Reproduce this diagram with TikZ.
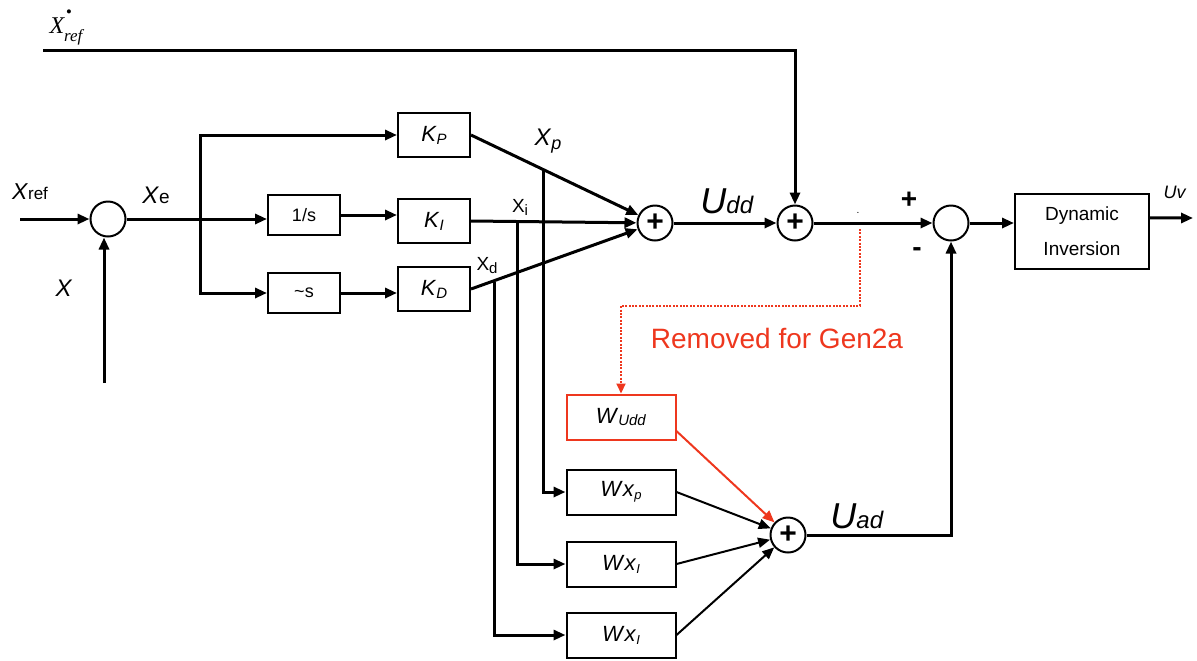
\documentclass[tikz,border=0pt]{standalone}
\usepackage{fontspec}
\setmainfont{Liberation Sans}
\newfontfamily\serifit{Liberation Serif}
\usetikzlibrary{arrows.meta,calc}
\newcommand\fsz[1]{\fontsize{#1}{#1}\selectfont}
\definecolor{remred}{RGB}{238,55,30}
\begin{document}
\begin{tikzpicture}[x=0.5pt,y=-0.5pt,
  blk/.style={draw, line width=1pt, minimum width=36pt, minimum height=22pt, inner sep=0pt},
  wblk/.style={blk, minimum width=54.5pt, minimum height=22.5pt},
  sumc/.style={draw, circle, line width=1pt, minimum size=17.5pt, inner sep=0pt},
  sig/.style={line width=1.5pt, -{Triangle[length=6pt,width=5pt]}},
  ln/.style={line width=1.5pt},
  thn/.style={line width=1pt, -{Triangle[length=6pt,width=5pt]}},
  lbl/.style={inner sep=0pt},
  plus/.style={font=\fsz{15}\bfseries}]
\useasboundingbox (0,0) rectangle (1197,660);

% blocks
\node[sumc] (s0) at (108,219) {};
\node[blk, minimum height=20pt] (inv) at (304,215) {\fsz{9}1/s};
\node[blk, minimum height=20pt] (dif) at (304,293) {\fsz{9}\textasciitilde s};
\node[blk] (KP) at (434,135) {\fsz{11}\textit{K}\raisebox{-1.5pt}{\fsz{7.5}\textit{P}}};
\node[blk] (KI) at (434,221) {\fsz{11}\textit{K}\raisebox{-1.5pt}{\fsz{7.5}\textit{I}}};
\node[blk] (KD) at (434,289) {\fsz{11}\textit{K}\raisebox{-1.5pt}{\fsz{7.5}\textit{D}}};
\node[sumc, plus] (s1) at (655,223) {+};
\node[sumc, plus] (s2) at (795,223) {+};
\node[sumc] (s3) at (951,223) {};
\node[blk, minimum width=67pt, minimum height=37.5pt, align=center, font=\fsz{9.5}] (DI) at (1082,231) {Dynamic\\[8pt]Inversion};
\node[wblk, draw=remred] (Wu) at (621,417) {\fsz{11}\textit{W}\raisebox{-1pt}{\fsz{7.5}\textit{Udd}}};
\node[wblk] (Wp) at (621,492) {\fsz{11}\textit{W}\textit{x}\raisebox{-1.5pt}{\fsz{6.5}\textit{p}}};
\node[wblk] (Wi) at (621,564) {\fsz{11}\textit{W}\textit{x}\raisebox{-1.5pt}{\fsz{6.5}\textit{I}}};
\node[wblk] (Wd) at (621,635) {\fsz{11}\textit{W}\textit{x}\raisebox{-1.5pt}{\fsz{6.5}\textit{I}}};
\node[sumc, plus] (s4) at (788,535) {+};

% free ends and taps
\coordinate (xin) at (20,219);
\coordinate (xfb) at (104,383);
\coordinate (br) at (200,219);
\coordinate (xdtop) at (43,50);
\coordinate (tp) at (543,169);
\coordinate (ti) at (517,222);
\coordinate (td) at (494,282);
\coordinate (uv) at (1193,218);
\coordinate (rd) at (860,229);

% connectors
\draw[sig] (xin) -- (s0);
\draw[sig] (xfb) -- (xfb |- s0.south);
\draw[ln] (s0) -- (br);
\draw[sig] (br) -- (inv.west |- br);
\draw[sig] (br) |- (KP);
\draw[sig] (br) |- (dif);
\draw[sig] (inv) -- (KI.west |- inv);
\draw[sig] (dif) -- (KD.west |- dif);
\draw[sig] (KP.east) -- (s1);
\draw[sig] (KI.east) -- (s1);
\draw[sig] (KD.east) -- (s1);
\draw[sig] (tp) |- (Wp);
\draw[sig] (ti) |- (Wi);
\draw[sig] (td) |- (Wd);
\draw[sig] (s1) -- (s2);
\draw[sig] (xdtop) -| (s2);
\draw[sig] (s2) -- (s3);
\draw[sig] (s3) -- (s3 -| DI.west);
\draw[sig] ($(DI.north east)!0.33!(DI.south east)$) -- (uv);
\draw[thn] (Wp.east) -- (s4);
\draw[thn] (Wi.east) -- (s4);
\draw[thn] (Wd.east) -- (s4);
\draw[thn, remred] ($(Wu.north east)!0.8!(Wu.south east)$) -- (s4);
\draw[sig] (s4) -| (s3);
\draw[remred, line width=1pt, dash pattern=on 1pt off 0.7pt, -{Triangle[length=5pt,width=4.5pt]}] (rd) |- ($(Wu.north)+(0,-88)$) -- (Wu.north);

% labels
\node[lbl] (lxdot) at (66,27) {\serifit\itshape\fsz{12}X\raisebox{-4pt}{\fsz{8.5}\rlap{\raisebox{12pt}{\kern0.8pt\textbullet}}ref}};
\node[lbl] (lxref) at (30,192) {\fsz{11.5}\textit{X}\fsz{8.5}ref};
\node[lbl] (lx) at (64,288) {\fsz{12}\textit{X}};
\node[lbl] (lxe) at (156,195) {\fsz{12}\textit{X}\fsz{9.5}e};
\node[lbl] (lxp) at (548,141) {\fsz{12}\textit{X}\raisebox{-2pt}{\fsz{9}\textit{p}}};
\node[lbl] (lxi) at (520,207) {\fsz{9.5}X\raisebox{-1.5pt}{\fsz{7.5}i}};
\node[lbl] (lxd) at (487,266) {\fsz{9.5}X\raisebox{-1.5pt}{\fsz{7.5}d}};
\node[lbl] (ludd) at (727,201) {\fsz{18}\textit{U}\fsz{12}\textit{dd}};
\node[lbl] (luad) at (857,516) {\fsz{18}\textit{U}\fsz{12}\textit{ad}};
\node[lbl] (lplus) at (909,200) {\fsz{14}\bfseries +};
\node[lbl] (lminus) at (917,252) {\fsz{14}\bfseries -};
\node[lbl] (luv) at (1175,192) {\fsz{9}\textit{Uv}};
\node[lbl] (ldot) at (858,213) {\fsz{5}.};
\node[lbl, text=remred] (lrem) at (777,338) {\fsz{14}Removed for Gen2a};
\end{tikzpicture}
\end{document}
